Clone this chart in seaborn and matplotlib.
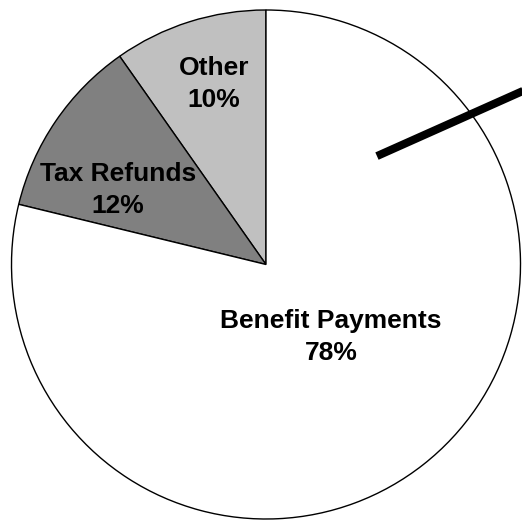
import matplotlib
matplotlib.use("Agg")
import matplotlib.pyplot as plt
import seaborn as sns

categories = ["Other", "Tax Refunds", "Benefit Payments"]
shares = [9.75, 11.45, 78.8]
pct_labels = ["10%", "12%", "78%"]
colors = ["#C0C0C0", "#808080", "#FFFFFF"]
label_pos = [(-0.204, 0.709), (-0.582, 0.293), (0.255, -0.285)]
leader_x = [0.436, 1.05]
leader_y = [0.426, 0.700]

sns.set_theme(style="white")
plt.rcParams['font.family'] = ['Liberation Sans', 'DejaVu Sans']

fig = plt.figure(figsize=(5.22, 5.21), dpi=100)
ax = fig.add_axes([0, 0, 1, 1])
ax.pie(shares, colors=colors, startangle=90, counterclock=True, radius=1.0,
       wedgeprops=dict(edgecolor="black", linewidth=1.0), center=(0, 0))
for cat, lab, (x, y) in zip(categories, pct_labels, label_pos):
    ax.text(x, y, f"{cat}\n{lab}", ha="center", va="center", fontsize=19,
            fontweight="bold", color="black", linespacing=1.45)

ax.plot(leader_x, leader_y, color="black", linewidth=5.8,
        solid_capstyle="butt", clip_on=False)

ax.set_aspect("auto")
R = 254.5
ax.set_xlim(-266 / R, 256 / R)
ax.set_ylim(-256.5 / R, 264.5 / R)
ax.axis("off")
fig.savefig("out.png", dpi=100, facecolor="white")
